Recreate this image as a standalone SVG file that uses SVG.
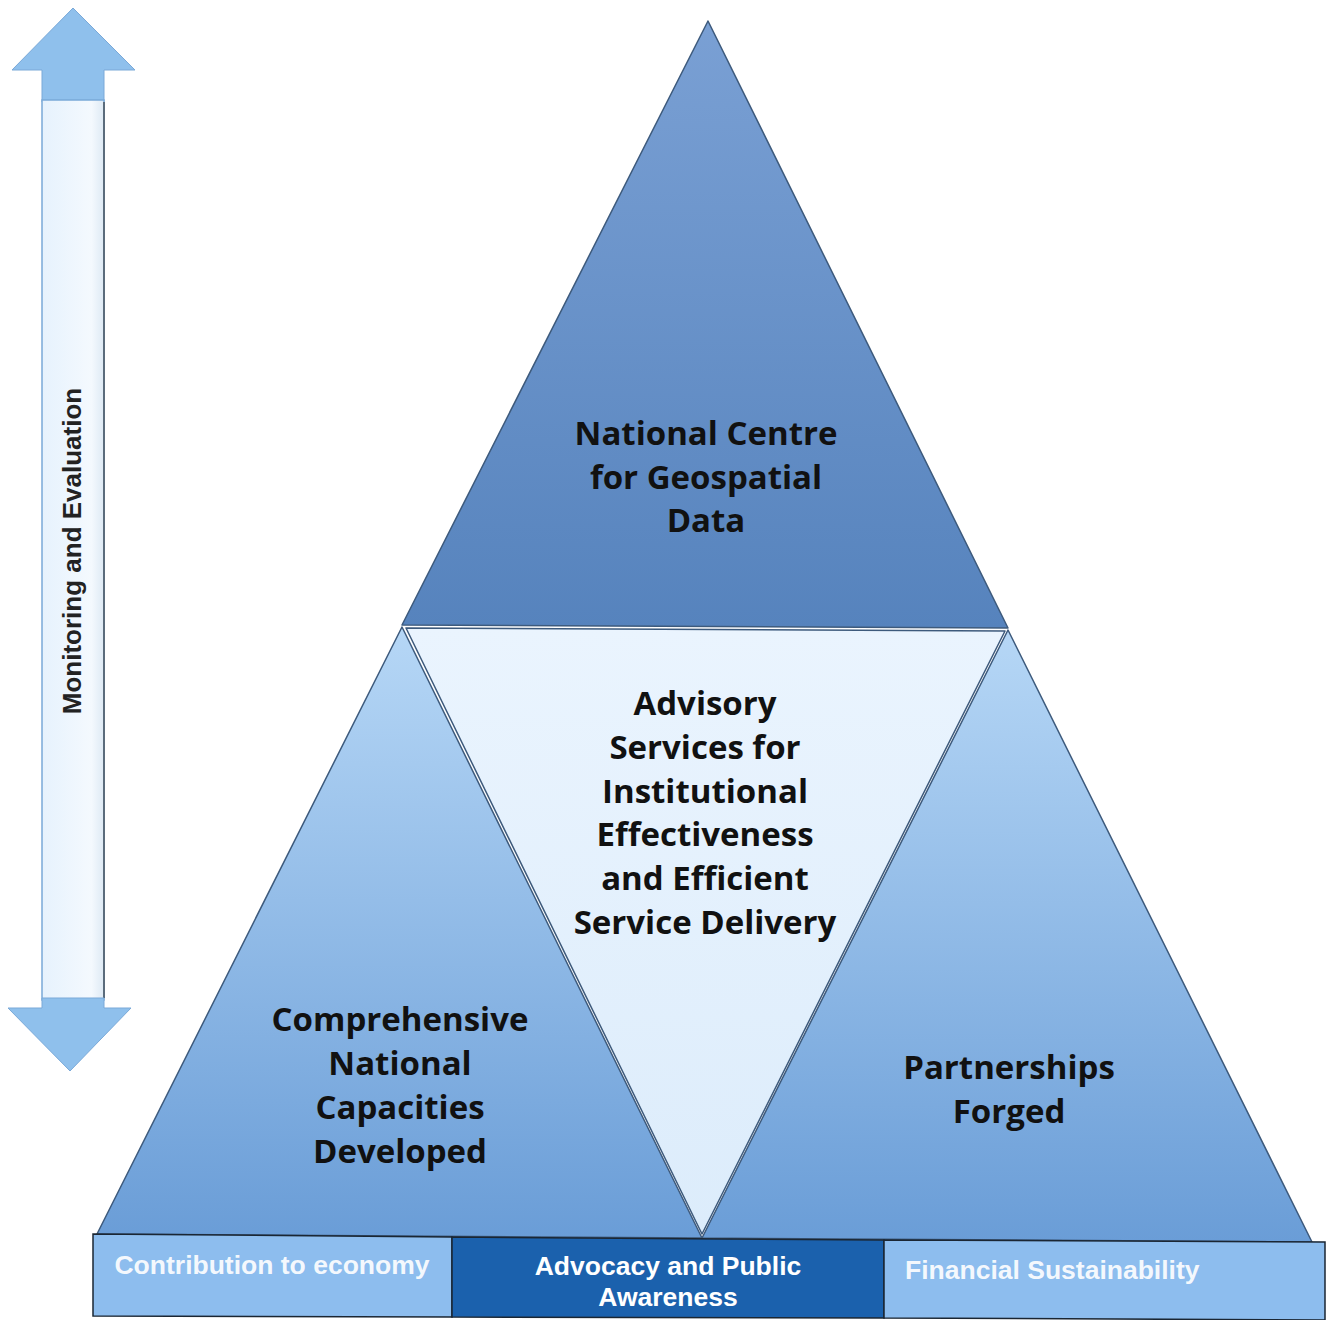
<svg xmlns="http://www.w3.org/2000/svg" width="1332" height="1320" viewBox="0 0 1332 1320">
<defs>
<linearGradient id="gTop" x1="0" y1="0" x2="0" y2="1">
<stop offset="0" stop-color="#7aa0d4"/>
<stop offset="1" stop-color="#5683bd"/>
</linearGradient>
<linearGradient id="gSide" x1="0" y1="0" x2="0" y2="1">
<stop offset="0" stop-color="#b6d7f6"/>
<stop offset="1" stop-color="#6a9dd7"/>
</linearGradient>
<linearGradient id="gMid" x1="0" y1="0" x2="0" y2="1">
<stop offset="0" stop-color="#eaf4fe"/>
<stop offset="1" stop-color="#dcecfb"/>
</linearGradient>
<linearGradient id="gShaft" x1="0" y1="0" x2="1" y2="0">
<stop offset="0" stop-color="#e6f2fd"/>
<stop offset="0.8" stop-color="#f4f9fe"/>
<stop offset="1" stop-color="#dde9f4"/>
</linearGradient>
</defs>
<style>
.tri{stroke:#3d5a7c;stroke-width:1.5;stroke-linejoin:round}
.lbl{font-family:"Open Sans","Noto Sans",sans-serif;font-weight:bold;font-size:33px;fill:#111;text-anchor:middle}
.bar{stroke:#1a2633;stroke-width:1.5}
.bt{font-family:"Liberation Sans",Arial,sans-serif;font-weight:bold;font-size:26.5px;fill:#fff}
.arr{fill:#8fc0ec;stroke:#7aa9d8;stroke-width:1}
</style>
<rect width="1332" height="1320" fill="#ffffff"/>

<g id="monitoring-arrow">
<polygon class="arr" points="73,8 135,70 104,70 104,102 42,102 42,70 12,70"/>
<rect x="42" y="100" width="62" height="900" fill="url(#gShaft)" stroke="#7aa9d8" stroke-width="1.5"/>
<line x1="104" y1="102" x2="104" y2="998" stroke="#5b6c7c" stroke-width="2"/>
<polygon class="arr" points="42,998 104,998 104,1008 131,1008 70,1071 8,1008 42,1008"/>
<text x="0" y="0" transform="translate(81,551) rotate(-90)" font-family="Liberation Sans,Arial,sans-serif" font-weight="bold" font-size="26" fill="#222" text-anchor="middle">Monitoring and Evaluation</text>
</g>

<g id="node-top">
<polygon class="tri" fill="url(#gTop)" points="708,21 402,625 1008,628"/>
<text class="lbl" x="706" y="445">National Centre</text>
<text class="lbl" x="706" y="489">for Geospatial</text>
<text class="lbl" x="706" y="532">Data</text>
</g>

<g id="node-left">
<polygon class="tri" fill="url(#gSide)" points="402,627 97,1234 702,1238"/>
<text class="lbl" x="400" y="1031">Comprehensive</text>
<text class="lbl" x="400" y="1075">National</text>
<text class="lbl" x="400" y="1119">Capacities</text>
<text class="lbl" x="400" y="1163">Developed</text>
</g>

<g id="node-right">
<polygon class="tri" fill="url(#gSide)" points="1008,630 702,1238 1312,1242"/>
<text class="lbl" x="1009" y="1079">Partnerships</text>
<text class="lbl" x="1009" y="1123">Forged</text>
</g>

<g id="node-middle">
<polygon class="tri" fill="url(#gMid)" points="406,628 1005,631 702,1234"/>
<text class="lbl" x="705" y="715">Advisory</text>
<text class="lbl" x="705" y="759">Services for</text>
<text class="lbl" x="705" y="803">Institutional</text>
<text class="lbl" x="705" y="846">Effectiveness</text>
<text class="lbl" x="705" y="890">and Efficient</text>
<text class="lbl" x="705" y="934">Service Delivery</text>
</g>

<g id="bar-contribution">
<polygon class="bar" fill="#8dbdee" points="93,1234 452,1237 452,1317 93,1316"/>
<text class="bt" x="272" y="1274" text-anchor="middle" fill-opacity="0.92">Contribution to economy</text>
</g>
<g id="bar-advocacy">
<polygon class="bar" fill="#1b61ad" points="452,1237 884,1240 884,1318 452,1317"/>
<text class="bt" x="668" y="1275" text-anchor="middle">Advocacy and Public</text>
<text class="bt" x="668" y="1306" text-anchor="middle">Awareness</text>
</g>
<g id="bar-financial">
<polygon class="bar" fill="#8dbdee" points="884,1240 1325,1242 1325,1320 884,1318"/>
<text class="bt" x="905" y="1279" fill-opacity="0.92">Financial Sustainability</text>
</g>

<g id="connectors"></g>
</svg>
